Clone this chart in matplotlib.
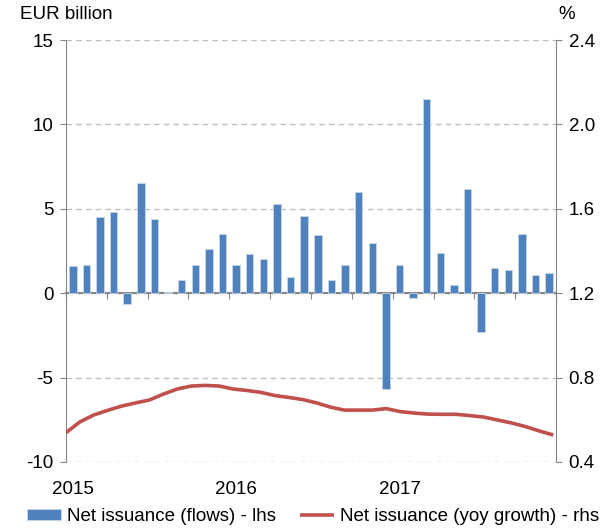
import matplotlib
matplotlib.use("Agg")
import matplotlib.pyplot as plt
import numpy as np

plt.rcParams["font.family"] = ["Liberation Sans", "DejaVu Sans"]
plt.rcParams["axes.unicode_minus"] = False

# monthly data, Jan 2015 - Dec 2017
flows = [
    1.6, 1.7, 4.5, 4.8, -0.65, 6.5, 4.4, 0.05, 0.8, 1.7, 2.6, 3.5,
    1.7, 2.3, 2.0, 5.3, 0.95, 4.6, 3.45, 0.8, 1.7, 6.0, 3.0, -5.7,
    1.65, -0.3, 11.5, 2.4, 0.5, 6.15, -2.3, 1.5, 1.35, 3.5, 1.1, 1.2,
]
growth = [
    0.539, 0.59, 0.623, 0.645, 0.665, 0.68, 0.694, 0.722, 0.746, 0.76, 0.763, 0.76,
    0.746, 0.739, 0.73, 0.715, 0.706, 0.696, 0.68, 0.66, 0.646, 0.646, 0.646, 0.653,
    0.639, 0.632, 0.627, 0.626, 0.626, 0.62, 0.613, 0.599, 0.585, 0.568, 0.547, 0.528,
]
year_labels = ["2015", "2016", "2017"]

blue = "#4F81BD"
red = "#C0504D"
grey = "#868686"
fs = 13.5

fig = plt.figure(figsize=(6.02, 5.28), dpi=100)
ax = fig.add_axes([0.1096, 0.125, 0.814, 0.7992])

x = np.arange(len(flows))
ax.bar(x, flows, width=0.55, color=blue, edgecolor="#C6D6EA", linewidth=0.6,
       label="Net issuance (flows) - lhs", zorder=3)

ax.set_xlim(-0.5, len(flows) - 0.5)
ax.set_ylim(-10, 15)
ax.set_yticks(np.arange(-10, 16, 5))
ax.yaxis.grid(True, linestyle=(0, (4, 3)), color="#BFBFBF", linewidth=1)
ax.set_axisbelow(True)

# x axis sits at zero
ax.spines["bottom"].set_position(("data", 0))
ax.spines["bottom"].set_color(grey)
ax.spines["bottom"].set_linewidth(1.5)
ax.spines["top"].set_visible(False)
ax.spines["left"].set_color(grey)
ax.spines["right"].set_visible(False)
ax.set_xticks(np.arange(-0.5, len(flows), 3))
ax.set_xticklabels([])
ax.tick_params(axis="x", direction="out", length=4, color=grey)
ax.tick_params(axis="y", direction="out", length=4, color=grey,
               labelsize=fs, pad=5)

for i, lab in enumerate(year_labels):
    ax.text(i * 12, -11.1, lab, ha="center", va="top", fontsize=fs)

ax2 = ax.twinx()
xl = np.linspace(-0.5, len(flows) - 0.7, len(growth))
ax2.plot(xl, growth, color=red, linewidth=2.6, solid_capstyle="butt",
         label="Net issuance (yoy growth) - rhs", zorder=4)
ax2.set_ylim(0.4, 2.4)
ax2.set_yticks([0.4, 0.8, 1.2, 1.6, 2.0, 2.4])
ax2.set_yticklabels(["0.4", "0.8", "1.2", "1.6", "2.0", "2.4"])
for s in ["top", "left", "bottom"]:
    ax2.spines[s].set_visible(False)
ax2.spines["right"].set_color(grey)
ax2.tick_params(axis="y", direction="out", length=4, color=grey,
                labelsize=fs, pad=5)

fig.text(0.033, 0.972, "EUR billion", fontsize=fs, va="center", ha="left")
fig.text(0.928, 0.972, "%", fontsize=fs, va="center", ha="left")

h1, l1 = ax.get_legend_handles_labels()
h2, l2 = ax2.get_legend_handles_labels()
fig.legend(h1 + h2, l1 + l2, loc="center", bbox_to_anchor=(0.52, 0.022),
           ncol=2, frameon=False, fontsize=fs, handlelength=1.8,
           handleheight=0.5, handletextpad=0.3, columnspacing=1.3,
           borderaxespad=0)

fig.savefig("out.png", dpi=100)
